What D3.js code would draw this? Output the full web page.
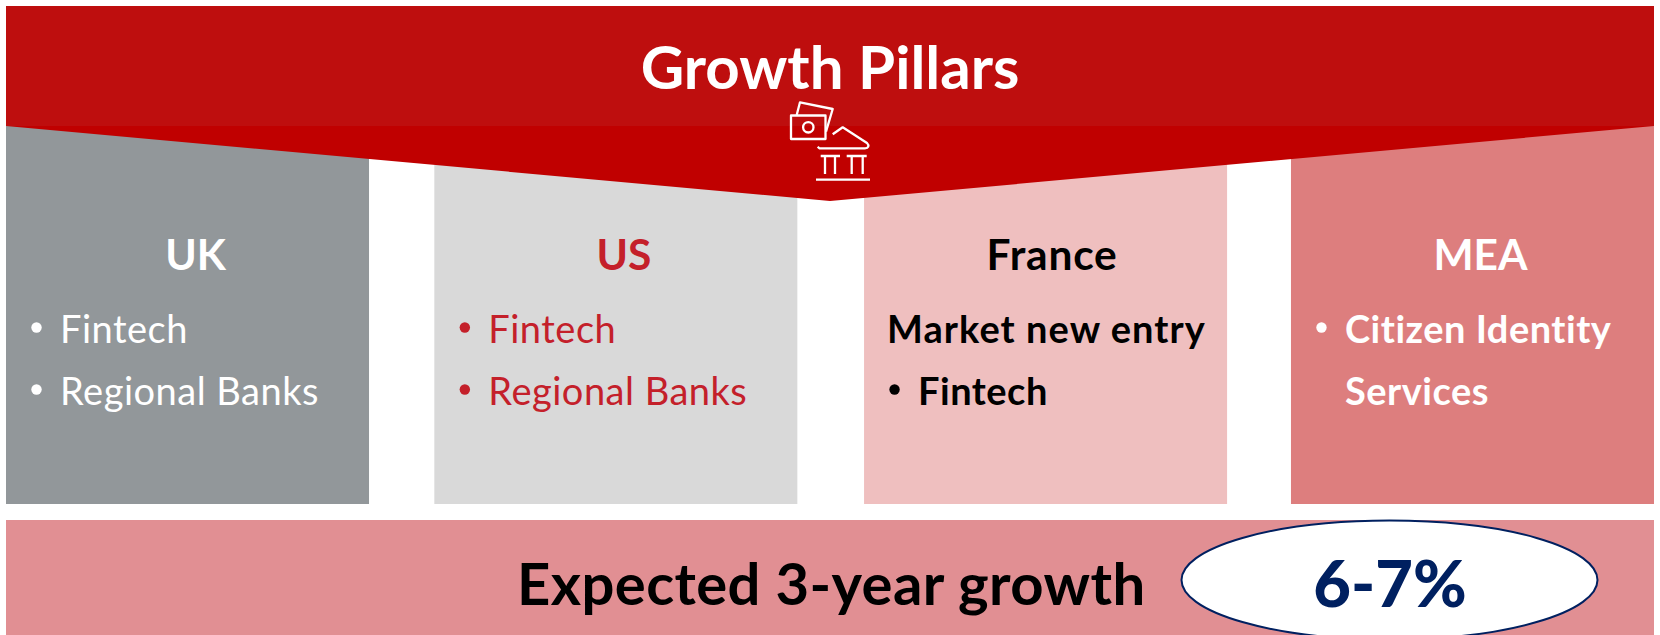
<!DOCTYPE html>
<html>
<head>
<meta charset="utf-8">
<script src="https://cdnjs.cloudflare.com/ajax/libs/d3/7.8.5/d3.min.js"></script>
<style>
	html, body { margin: 0; padding: 0; background: #fff; }
	svg { display: block; }
	text { font-family: Lato, "Open Sans", sans-serif; }
</style>
</head>
<body>
<svg id="svg"></svg>
<script>
const regions = ['UK', 'US', 'France', 'MEA'];
const regionFills = ['#92979a', '#d9d9d9', '#efbfbf', '#dd7e7e'];
const regionInk = ['#ffffff', '#c4202a', '#000000', '#ffffff'];
const regionWeights = [400, 400, 700, 700];
const regionLines = [
	[{ text: 'Fintech', bullet: true }, { text: 'Regional Banks', bullet: true }],
	[{ text: 'Fintech', bullet: true }, { text: 'Regional Banks', bullet: true }],
	[{ text: 'Market new entry', bullet: false }, { text: 'Fintech', bullet: true }],
	[{ text: 'Citizen Identity', bullet: true }, { text: 'Services', bullet: false, indent: true }]
];
const title = 'Growth Pillars';
const growthLabel = 'Expected 3-year growth';
const growthValue = '6-7%';

const width = 1660;
const height = 635;
const left = 6;
const right = 1654;
const headerTop = 6;
const headerBottom = 126;
const tipY = 201;
const panelBottom = 504;
const bandTop = 520;

const svg = d3.select('#svg').attr('width', width).attr('height', height);

// panels are positioned by a band scale, the France panel sits a touch right of even
const bandScale = d3.scaleBand()
	.domain(regions)
	.range([left, right])
	.paddingInner(65.3 / (363 + 65.3));
const xScale = d => bandScale(d) + (d === 'France' ? 1.4 : 0);

const panelG = svg.selectAll('g.panel')
		.data(regions)
		.enter()
	.append('g')
		.attr('class', 'panel')
		.attr('transform', d => `translate(${xScale(d)}, 0)`);

panelG.append('rect')
	.attr('y', headerBottom)
	.attr('width', bandScale.bandwidth())
	.attr('height', panelBottom - headerBottom)
	.attr('fill', (d, i) => regionFills[i]);

panelG.append('text')
	.attr('x', d => bandScale.bandwidth() / 2 + (d === 'France' ? 6.5 : 8))
	.attr('y', 270)
	.attr('text-anchor', 'middle')
	.attr('font-size', 42.5)
	.attr('letter-spacing', d => d === 'France' ? 0.8 : 0)
	.attr('font-weight', 700)
	.attr('fill', (d, i) => regionInk[i])
	.text(d => d);

// two text rows per panel, with a round bullet where the row has one
panelG.each(function(region, panelIndex) {
	const rows = d3.select(this)
		.selectAll('g.row')
			.data(regionLines[panelIndex])
			.enter()
		.append('g')
			.attr('class', 'row')
			.attr('transform', (row, i) => `translate(0, ${343 + i * 62})`);

	rows.filter(row => row.bullet)
		.append('circle')
			.attr('cx', 30.5)
			.attr('cy', -15.5)
			.attr('r', 5.2)
			.attr('fill', regionInk[panelIndex]);

	rows.append('text')
		.attr('x', row => (row.bullet || row.indent) ? 54 : 23)
		.attr('font-size', 38)
		.attr('letter-spacing', row => row.text === 'Market new entry' ? 1.05 : 0.5)
		.attr('font-weight', regionWeights[panelIndex])
		.attr('fill', regionInk[panelIndex])
		.text(row => row.text);
});

// header bar and the downward chevron under it
svg.append('rect')
	.attr('x', left)
	.attr('y', headerTop)
	.attr('width', right - left)
	.attr('height', headerBottom - headerTop)
	.attr('fill', '#be0e0e');

svg.append('path')
	.attr('d', d3.line()([[left, headerBottom], [right, headerBottom], [(left + right) / 2, tipY]]) + 'Z')
	.attr('fill', '#c00000');

svg.append('text')
	.attr('x', 830)
	.attr('y', 89)
	.attr('text-anchor', 'middle')
	.attr('font-size', 60)
	.attr('font-weight', 700)
	.attr('fill', '#fff')
	.text(title);

// money and bank icon
const icon = svg.append('g')
	.attr('fill', 'none')
	.attr('stroke', '#fff')
	.attr('stroke-width', 2.3)
	.attr('stroke-linejoin', 'round');
icon.append('rect').attr('x', 791).attr('y', 115.5).attr('width', 34.5).attr('height', 23.5);
icon.append('circle').attr('cx', 808.3).attr('cy', 127.3).attr('r', 5.2);
icon.append('path').attr('d', 'M796.7 115L800 102.3L832.7 109L826 131.7');
icon.append('path').attr('d', 'M832.7 134.3L842.7 127.3L867 143C869.5 145.5 868.5 148.3 865 148.3L819.3 148.3L817.7 146.7');
icon.append('path').attr('d', 'M820.7 156H840M846.7 156H866.7M825 156V174M835 156V174M851.7 156V174M862.7 156V174M816 179.7H870');

// growth band
svg.append('rect')
	.attr('x', left)
	.attr('y', bandTop)
	.attr('width', right - left)
	.attr('height', height - bandTop)
	.attr('fill', '#e18f93');

svg.append('text')
	.attr('x', 517)
	.attr('y', 605)
	.attr('font-size', 58)
	.attr('letter-spacing', 0.4)
	.attr('font-weight', 700)
	.attr('fill', '#000')
	.text(growthLabel);

svg.append('ellipse')
	.attr('cx', 1389.5)
	.attr('cy', 580)
	.attr('rx', 208)
	.attr('ry', 59.5)
	.attr('fill', '#fff')
	.attr('stroke', '#002060')
	.attr('stroke-width', 2);

svg.append('text')
	.attr('x', 1390)
	.attr('y', 607)
	.attr('text-anchor', 'middle')
	.attr('font-size', 65)
	.attr('font-weight', 900)
	.attr('fill', '#002060')
	.text(growthValue);
</script>
</body>
</html>
